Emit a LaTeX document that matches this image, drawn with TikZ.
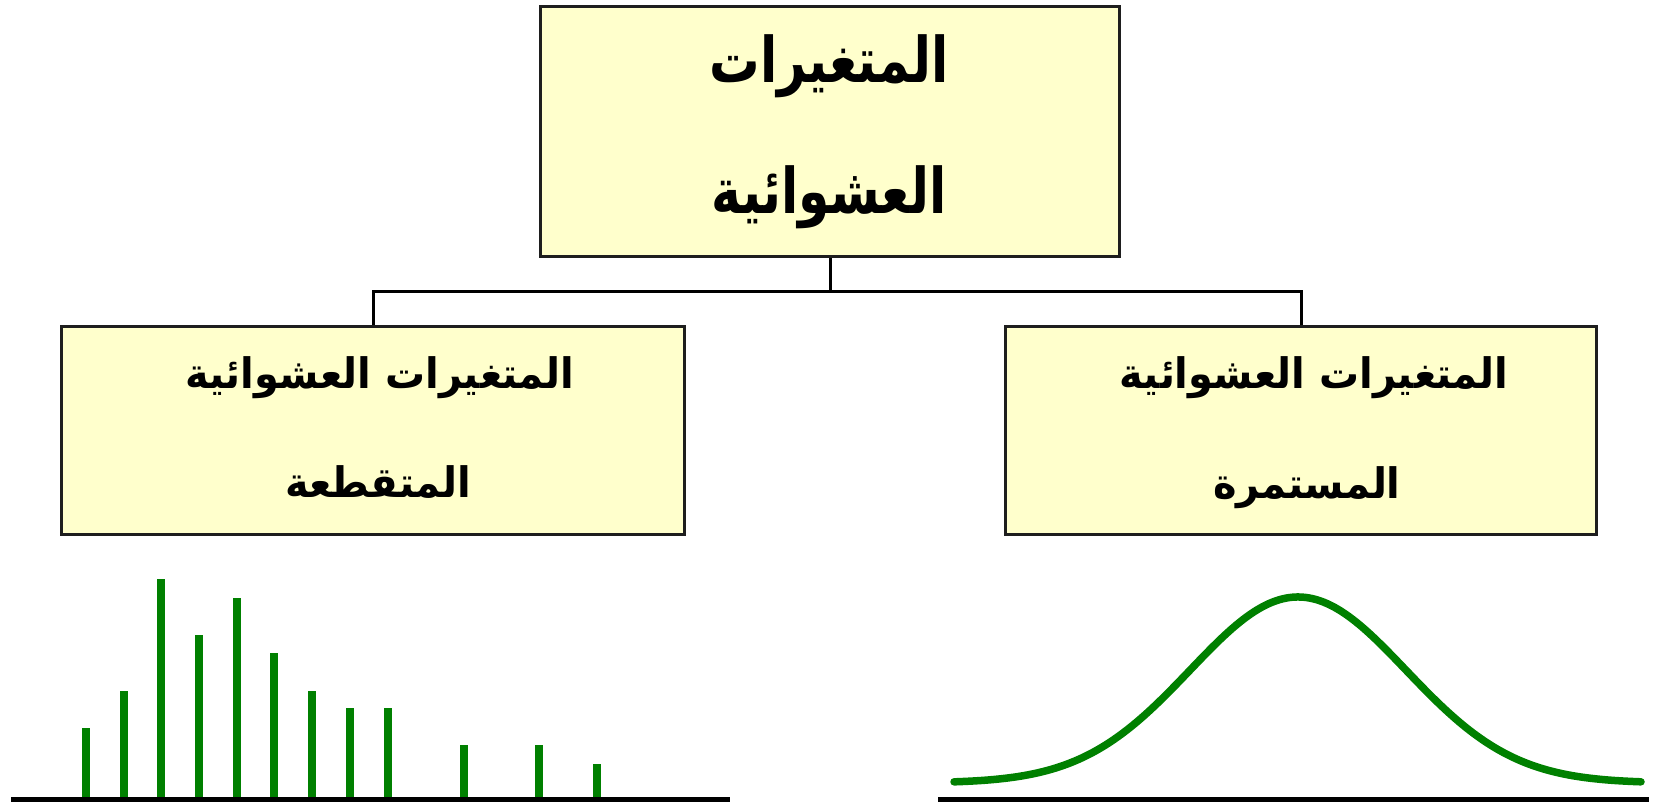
\documentclass[tikz,border=0pt]{standalone}
\usepackage{fontspec}
\newfontfamily\arabicnarrow[Script=Arabic, FakeStretch=0.8]{DejaVu Sans}
\newfontfamily\arabicsemi[Script=Arabic, FakeStretch=0.95]{DejaVu Sans}
\TeXXeTstate=1
\definecolor{boxfill}{RGB}{255,255,204}
\definecolor{boxline}{RGB}{30,30,30}
\definecolor{plotgreen}{RGB}{0,128,0}
\tikzset{
  catbox/.style={draw=boxline, line width=3.2pt, fill=boxfill, inner sep=0pt, anchor=north west},
  bigtext/.style={font=\arabicnarrow\bfseries\fontsize{63}{66}\selectfont, inner sep=0pt, anchor=base},
  smalltext/.style={font=\arabicsemi\bfseries\fontsize{42}{45}\selectfont, inner sep=0pt, anchor=base},
  link/.style={black, line width=3pt},
  axis/.style={black, line width=5pt},
  bar/.style={plotgreen, line width=8pt},
  curve/.style={plotgreen, line width=7.5pt, line cap=round, line join=round}
}
\begin{document}
\begin{tikzpicture}[x=1pt,y=-1pt]
  \useasboundingbox (0,0) rectangle (1671,803);

  % boxes
  \node[catbox, minimum width=579pt, minimum height=250pt] (top) at (539,5) {};
  \node[catbox, minimum width=623pt, minimum height=208pt] (left) at (60,325) {};
  \node[catbox, minimum width=591pt, minimum height=208pt] (right) at (1004,325) {};

  % labels (placed on their baselines)
  \node[bigtext] (t1) at (829,82) {\beginR المتغيرات\endR};
  \node[bigtext] (t2) at (829,213) {\beginR العشوائية\endR};
  \node[smalltext] (l1) at (380,388) {\beginR المتغيرات العشوائية\endR};
  \node[smalltext] (l2) at (378,497) {\beginR المتقطعة\endR};
  \node[smalltext] (r1) at (1314,388) {\beginR المتغيرات العشوائية\endR};
  \node[smalltext] (r2) at (1307,498) {\beginR المستمرة\endR};

  % tree connectors
  \path (top.south) ++(0,33) coordinate (bus);
  \draw[link] (top.south) -- (bus);
  \draw[link] (bus) -| (left.north);
  \draw[link] (bus) -| (right.north);

  % discrete distribution: bars on an axis
  \foreach \x/\h in {86/728, 124/691, 161/579, 199/635, 237/598, 274/653,
                     312/691, 350/708, 388/708, 464/745, 539/745, 597/764}
    \draw[bar] (\x,799) -- (\x,\h);
  \draw[axis] (11,799) -- (730,799);

  % continuous distribution: bell curve on an axis
  \draw[curve] plot[domain=954:1641, samples=120, smooth]
    (\x, {783 - 186*exp(-((\x-1298)/108)^2/2)});
  \draw[axis] (938,799) -- (1649,799);
\end{tikzpicture}
\end{document}
